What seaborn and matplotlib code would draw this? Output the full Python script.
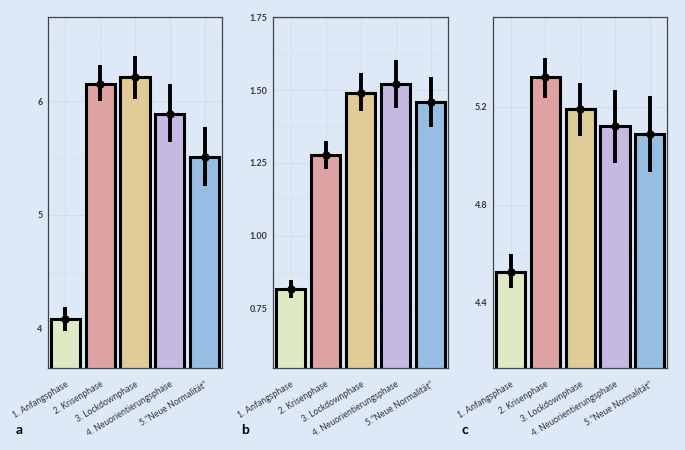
import numpy as np
import pandas as pd
import matplotlib
matplotlib.use("Agg")
import matplotlib.pyplot as plt
import seaborn as sns
from matplotlib.ticker import FixedLocator

phases = ["1. Anfangsphase", "2. Krisenphase", "3. Lockdownphase",
          "4. Neuorientierungsphase", "5.\u201cNeue Normalit\u00e4t\u201c"]
colors = ["#dfeac4", "#dfa2a3", "#dfca98", "#c6b9e1", "#97bee2"]

mean_a = [4.08, 6.155, 6.21, 5.89, 5.51]
low_a = [3.98, 6.00, 6.02, 5.64, 5.25]
high_a = [4.19, 6.32, 6.40, 6.155, 5.77]

mean_b = [0.817, 1.279, 1.491, 1.522, 1.459]
low_b = [0.784, 1.229, 1.428, 1.438, 1.373]
high_b = [0.848, 1.327, 1.560, 1.603, 1.545]

mean_c = [4.527, 5.32, 5.19, 5.121, 5.089]
low_c = [4.459, 5.234, 5.08, 4.971, 4.935]
high_c = [4.597, 5.40, 5.298, 5.268, 5.244]

bg = "#dde9f7"
sns.set_style("white")
plt.rcParams["font.family"] = ["Lato", "DejaVu Sans"]

fig = plt.figure(figsize=(6.85, 4.5), dpi=100, facecolor=bg)

panels = [
    ("a", mean_a, low_a, high_a, (3.65, 6.74), [4, 5, 6], ["4", "5", "6"], [4.5, 5.5, 6.5], [0.070, 0.324]),
    ("b", mean_b, low_b, high_b, (0.544, 1.752), [0.75, 1.0, 1.25, 1.5, 1.75],
     ["0.75", "1.00", "1.25", "1.50", "1.75"], [0.625, 0.875, 1.125, 1.375, 1.625], [0.399, 0.654]),
    ("c", mean_c, low_c, high_c, (4.133, 5.566), [4.4, 4.8, 5.2], ["4.4", "4.8", "5.2"],
     [4.2, 4.6, 5.0, 5.4], [0.720, 0.974]),
]

for letter, mean, low, high, ylim, ticks, ticklabels, minor, (x0, x1) in panels:
    ax = fig.add_axes([x0, 0.182, x1 - x0, 0.962 - 0.182])
    ax.set_facecolor(bg)
    df = pd.DataFrame({"phase": phases, "value": mean})
    sns.barplot(data=df, x="phase", y="value", hue="phase", palette=colors,
                legend=False, width=0.84, saturation=1, edgecolor="black",
                linewidth=2.2, errorbar=None, ax=ax, zorder=2)
    pos = np.arange(len(phases))
    ax.vlines(pos, low, high, color="black", linewidth=2.8, zorder=4)
    ax.plot(pos, mean, "o", color="black", markersize=5, zorder=5)
    ax.set_ylim(*ylim)
    ax.set_xlim(-0.5, 4.5)
    ax.set_yticks(ticks)
    ax.set_yticklabels(ticklabels, fontweight="bold")
    ax.yaxis.set_minor_locator(FixedLocator(minor))
    ax.grid(True, which="major", color="#cfdbe9", linewidth=0.6, zorder=0)
    ax.grid(True, which="minor", axis="y", color="#d5e0ec", linewidth=0.4, zorder=0)
    ax.set_axisbelow(True)
    ax.set_xlabel("")
    ax.set_ylabel("")
    ax.set_xticks(pos)
    ax.set_xticklabels(phases, rotation=31, ha="right", rotation_mode="anchor",
                       fontsize=6.2, color="#333333")
    ax.tick_params(axis="y", labelsize=6.5, labelcolor="#3a3a3a", length=2.5,
                   width=0.6, color="#333333", pad=1.5)
    ax.tick_params(axis="y", which="minor", length=0)
    ax.tick_params(axis="x", length=2.5, width=0.6, color="#333333", pad=6)
    for sp in ax.spines.values():
        sp.set_color("#444444")
        sp.set_linewidth(0.9)
    fig.text(x0 - 0.047, 0.035, letter, fontsize=10, fontweight="bold", color="black")

fig.savefig("out.png", dpi=100, facecolor=bg)
